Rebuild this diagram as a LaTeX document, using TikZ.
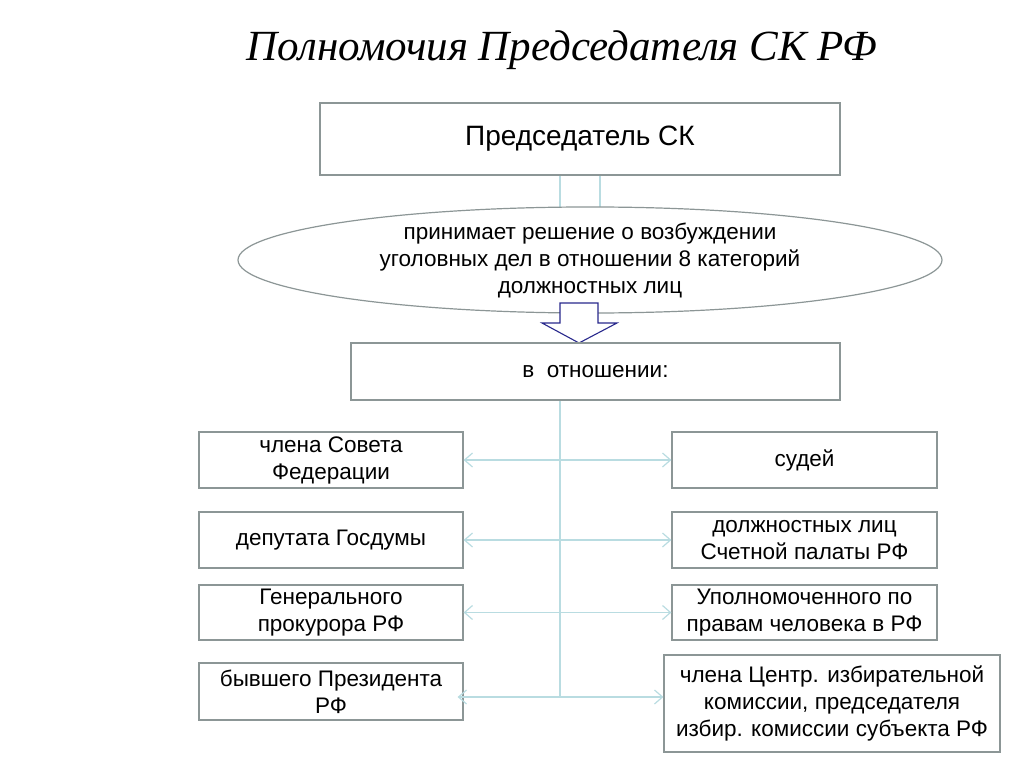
\documentclass[tikz,border=0pt]{standalone}
\usepackage{fontspec}
\setmainfont{Liberation Sans}
\newfontfamily\titlefont{Liberation Serif}
\usetikzlibrary{shapes.geometric,arrows.meta}
\definecolor{bx}{RGB}{140,150,150}
\definecolor{ln}{RGB}{185,220,225}
\definecolor{nv}{RGB}{40,40,140}
\tikzset{
 box/.style={draw=bx,line width=1.2pt,fill=white,align=center,font=\fontsize{22.5}{27}\selectfont},
 link/.style={draw=ln,line width=1.2pt},
 twoway/.style={link,{Straight Barb[length=8pt,width=14pt]}-{Straight Barb[length=8pt,width=14pt]}}
}
\begin{document}
\begin{tikzpicture}[x=1pt,y=-1pt]
\useasboundingbox (0,0) rectangle (1024,767);
\node[font=\titlefont\itshape\fontsize{43}{48}\selectfont] (t) at (562,50) {Полномочия Председателя СК РФ};
\draw[link] (560,175) -- (560,214) (600,175) -- (600,214);
\draw[link] (560,400) -- (560,697);
\node[box,minimum width=520,minimum height=72,font=\fontsize{28}{32}\selectfont] (top) at (580,139) {Председатель СК};
\node[box,ellipse,minimum width=704,minimum height=94,inner sep=0pt] (ell) at (590,260) {принимает решение о возбуждении\\уголовных дел в отношении 8 категорий\\должностных лиц};
\draw[nv,line width=1.1pt,fill=white] (560,303) -- (598,303) -- (598,323) -- (617,323) -- (579,343) -- (542,323) -- (560,323) -- cycle;
\node[box,minimum width=489,minimum height=57] (rel) at (595.5,371.5) {в\; отношении:};
\node[box,minimum width=264,minimum height=56] (l1) at (331,460) {члена Совета\\Федерации};
\node[box,minimum width=264,minimum height=56] (l2) at (331,540) {депутата Госдумы};
\node[box,minimum width=264,minimum height=55] (l3) at (331,612.5) {Генерального\\прокурора РФ};
\node[box,minimum width=264,minimum height=57] (l4) at (331,691.5) {бывшего Президента\\РФ};
\node[box,minimum width=265,minimum height=56] (r1) at (804.5,460) {судей};
\node[box,minimum width=265,minimum height=56] (r2) at (804.5,540) {должностных лиц\\Счетной палаты РФ};
\node[box,minimum width=265,minimum height=55] (r3) at (804.5,612.5) {Уполномоченного по\\правам человека в РФ};
\node[box,minimum width=336,minimum height=97] (r4) at (832,703.5) {члена Центр. избирательной\\комиссии, председателя\\избир. комиссии субъекта РФ};
\draw[twoway] (l1.east) -- (r1.west);
\draw[twoway] (l2.east) -- (r2.west);
\draw[twoway] (l3.east) -- (r3.west);
\coordinate (b4) at ([xshift=-6pt]l4.east |- 0,697);
\draw[twoway] (b4) -- (r4.west |- b4);
\end{tikzpicture}
\end{document}
